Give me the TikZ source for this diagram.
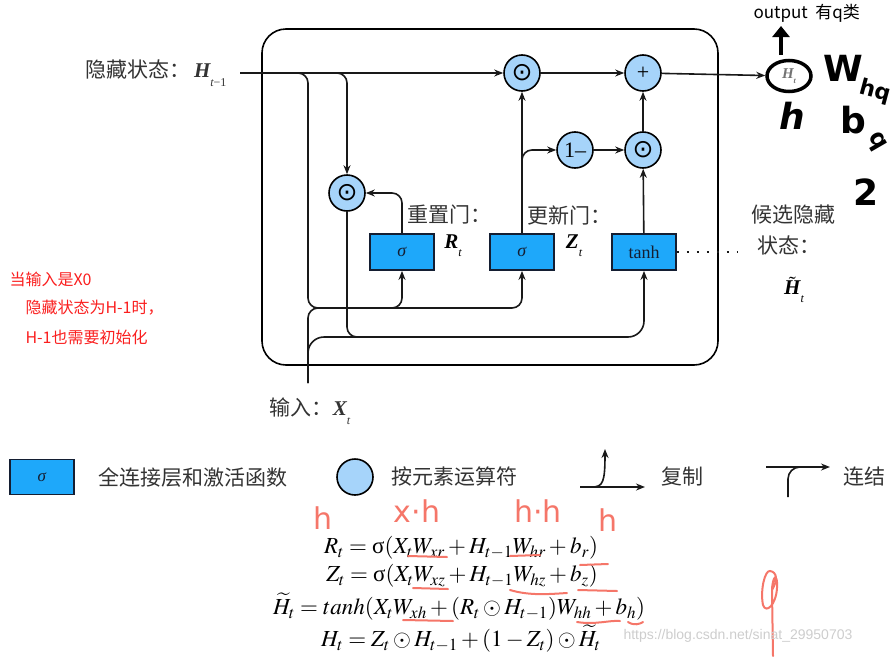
\documentclass[tikz,border=0pt]{standalone}
\usepackage{mathptmx}
\usepackage{fontspec}
\setmainfont{Liberation Serif}
\newfontfamily\cjk{Noto Sans CJK SC}
\newfontfamily\hand{DejaVu Sans}
\newfontfamily\wsans{Liberation Sans}
\usetikzlibrary{arrows.meta,shapes.geometric}

\definecolor{gateblue}{RGB}{30,168,250}
\definecolor{opblue}{RGB}{166,212,250}
\definecolor{gateedge}{RGB}{20,30,50}
\definecolor{notered}{RGB}{250,30,30}
\definecolor{penred}{RGB}{245,118,105}
\definecolor{wmgray}{RGB}{205,205,205}

\newcommand\lbl[2]{{\rmfamily\bfseries\itshape #1}\raisebox{-0.8ex}{\rmfamily\fontsize{12}{12}\selectfont #2}}

\tikzset{
  wire/.style={line width=1.6pt, black!90},
  arr/.style={wire, -{Stealth[length=9pt,width=7pt]}},
  gate/.style={draw=gateedge, line width=1.8pt, fill=gateblue, minimum width=64pt,
    minimum height=36pt, inner sep=0pt, font=\fontsize{18}{18}\selectfont, text=gateedge},
  opnode/.style={circle, draw, line width=1.6pt, fill=opblue, minimum size=36pt,
    inner sep=0pt, font=\fontsize{22}{22}\selectfont},
  lab/.style={font=\cjk\fontsize{21}{24}\selectfont, text=black!80},
  sym/.style={font=\fontsize{21}{24}\selectfont},
  eq/.style={font=\fontsize{23}{26}\selectfont},
  redtxt/.style={font=\cjk\fontsize{16}{19}\selectfont, text=notered, anchor=west},
  pen/.style={penred, line width=2pt, line cap=round},
  penfont/.style={font=\hand\fontsize{30}{30}\selectfont, text=penred},
  ink/.style={font=\hand\bfseries\fontsize{36}{36}\selectfont},
}

\begin{document}
\begin{tikzpicture}[x=1pt,y=-1pt]
\useasboundingbox (0,0) rectangle (894,656);

% cell
\node[draw, line width=1.6pt, rounded corners=24pt, minimum width=456pt,
  minimum height=336pt] (cell) at (490,197) {};

\node[opnode] (mulz) at (522,73) {\hand\fontsize{25}{25}\selectfont ⊙};
\node[opnode] (add) at (643,73) {+};
\node[opnode] (oneminus) at (575,150) {1–};
\node[opnode] (mulh) at (643,150) {\hand\fontsize{25}{25}\selectfont ⊙};
\node[opnode] (mulr) at (347,193) {\hand\fontsize{25}{25}\selectfont ⊙};
\node[gate] (rgate) at (402,252) {\textit{σ}};
\node[gate] (zgate) at (522,252) {\textit{σ}};
\node[gate] (hgate) at (644,252) {tanh};

\coordinate (hin) at (240,73);
\coordinate (xin) at (308,383);
\coordinate (cat) at (308,308);
\coordinate (catx) at (308,337);
\coordinate (dotend) at (737,252);

\node[lab, anchor=east] (hlab) at (230,73) {隐藏状态：\,\lbl{H}{\itshape t\upshape−1}};
\node[lab] (xlab) at (310,411) {输入：\lbl{X}{\itshape t}};
\node[lab] (rname) at (449,215) {重置门：};
\node[sym] (rsym) at (453,246) {\lbl{R}{\itshape t}};
\node[lab] (zname) at (569,215) {更新门：};
\node[sym] (zsym) at (574,246) {\lbl{Z}{\itshape t}};
\node[lab] (hname) at (793,215) {候选隐藏};
\node[lab] (hname2) at (789,245) {状态：};
\node[sym] (hsym) at (794,290) {$\tilde{\mbox{\bfseries\itshape H}}$\raisebox{-0.8ex}{\fontsize{12}{12}\selectfont\itshape t}};

% connectors
\draw[arr] (hin) -- (mulz);
\draw[arr] (mulz) -- (add);
\draw[arr, rounded corners=10pt] (hin) -| (mulr);
\draw[arr, rounded corners=10pt] (hin) -| (cat) -| (rgate);
\draw[arr, rounded corners=10pt] (mulr |- cat) -| (zgate);
\draw[wire, rounded corners=10pt] (xin) |- (mulr |- cat);
\draw[arr, rounded corners=16pt] (xin) |- (hgate |- catx) -- (hgate);
\draw[wire, rounded corners=10pt] (mulr) |- (zgate |- catx);
\draw[arr, rounded corners=10pt] (rgate) |- (mulr);
\draw[arr] (zgate) -- (mulz);
\draw[arr, rounded corners=10pt] (zgate) |- (oneminus);
\draw[arr] (oneminus) -- (mulh);
\draw[arr] (hgate) -- (mulh);
\draw[arr] (mulh) -- (add);
\draw[wire, line width=2.2pt, dash pattern=on 2pt off 8pt] (hgate) -- (dotend);

% output and pen notes
\node[ellipse, draw, line width=3.5pt, minimum width=44pt, minimum height=31pt,
  inner sep=0pt, text=black!55, font=\fontsize{15}{15}\selectfont] (hout) at (789,76)
  {\bfseries\itshape H\raisebox{-0.7ex}{\fontsize{8}{8}\selectfont t}};
\draw[arr] (add) -- (hout);
\node[font=\cjk\fontsize{17}{20}\selectfont, anchor=west] (outtxt) at (750,13) {output\ \ 有q类};
\coordinate (penbase) at (781,55);
\coordinate (pentip) at (781,26);
\draw[line width=4pt, -{Triangle[length=11pt,width=17pt]}] (penbase) -- (pentip);
\node[ink] (inkh) at (792,116) {\itshape h};
\node[ink] (inkw) at (843,68) {W};
\node[ink, font=\hand\bfseries\fontsize{22}{22}\selectfont, rotate=-15] (inkhq) at (875,92) {hq};
\node[ink] (inkb) at (853,120) {b};
\node[ink, font=\hand\bfseries\fontsize{24}{24}\selectfont, rotate=-60] (inkbq) at (876,142) {q};
\node[ink] (inktwo) at (866,192) {2};

\node[redtxt] (note1) at (6,279) {当输入是X0};
\node[redtxt] (note2) at (22,308) {隐藏状态为H-1时，};
\node[redtxt] (note3) at (22,337) {H-1也需要初始化};

% legend
\node[gate, minimum width=64pt, minimum height=35pt, font=\fontsize{17}{17}\selectfont] (lgate) at (42,477) {\textit{σ}};
\node[lab, anchor=west] (lgatetxt) at (95,477) {全连接层和激活函数};
\node[opnode] (lop) at (355,477) {};
\node[lab, anchor=west] (loptxt) at (388,477) {按元素运算符};
\coordinate (cpfrom) at (580,487);
\coordinate (cpto) at (645,487);
\coordinate (cpup) at (605,449);
\draw[arr] (cpfrom) -- (cpto);
\draw[arr] (cpfrom) -- (592,487) .. controls (603,487) and (605,482) .. (cpup);
\node[lab, anchor=west] (cptxt) at (658,477) {复制};
\coordinate (cnbot) at (788,497);
\coordinate (cnleft) at (766,467);
\coordinate (cnto) at (830,467);
\draw[arr] (cnleft) -- (cnto);
\draw[wire, rounded corners=12pt] (cnbot) |- (810,467);
\node[lab, anchor=west] (cntxt) at (840,477) {连结};

% equations
\node[eq] (eqr) at (461,548) {$R_t = \mbox{σ}(X_t W_{xr} + H_{t-1} W_{hr} + b_r)$};
\node[eq] (eqz) at (462,576) {$Z_t = \mbox{σ}(X_t W_{xz} + H_{t-1} W_{hz} + b_z)$};
\node[eq] (eqc) at (459,607) {$\widetilde{H}_t = tanh(X_t W_{xh} + (R_t \odot H_{t-1}) W_{hh} + b_h)$};
\node[eq] (eqh) at (461,639) {$H_t = Z_t \odot H_{t-1} + (1 - Z_t) \odot \widetilde{H}_t$};

\node[penfont] (penh1) at (323,518) {h};
\node[penfont] (penxh) at (417,511) {x·h};
\node[penfont] (penhh) at (538,511) {h·h};
\node[penfont] (penh2) at (608,520) {h};
\draw[pen] (408,556) -- (447,557);
\draw[pen] (510,556) -- (540,555);
\draw[pen] (580,565) -- (608,564);
\draw[pen] (413,588) -- (448,589);
\draw[pen] (510,590) .. controls (530,596) and (550,594) .. (567,593);
\draw[pen] (578,590) -- (617,591);
\draw[pen] (403,620) -- (453,621);
\draw[pen] (577,622) .. controls (595,625) and (610,620) .. (620,621);
\draw[pen] (628,622) .. controls (634,626) and (640,624) .. (643,622);
\coordinate (loopend) at (773,656);
\draw[pen] (loopend) -- (772,592) .. controls (772,575) and (778,572) .. (777,588)
  .. controls (776,605) and (766,614) .. (763,605) .. controls (760,590) and (765,570) .. (770,571)
  .. controls (777,572) and (778,580) .. (772,590);

\node[font=\wsans\fontsize{14}{16}\selectfont, text=wmgray, anchor=west] (wm) at (620,636)
  {https://blog.csdn.net/sinat\_29950703};
\end{tikzpicture}
\end{document}
